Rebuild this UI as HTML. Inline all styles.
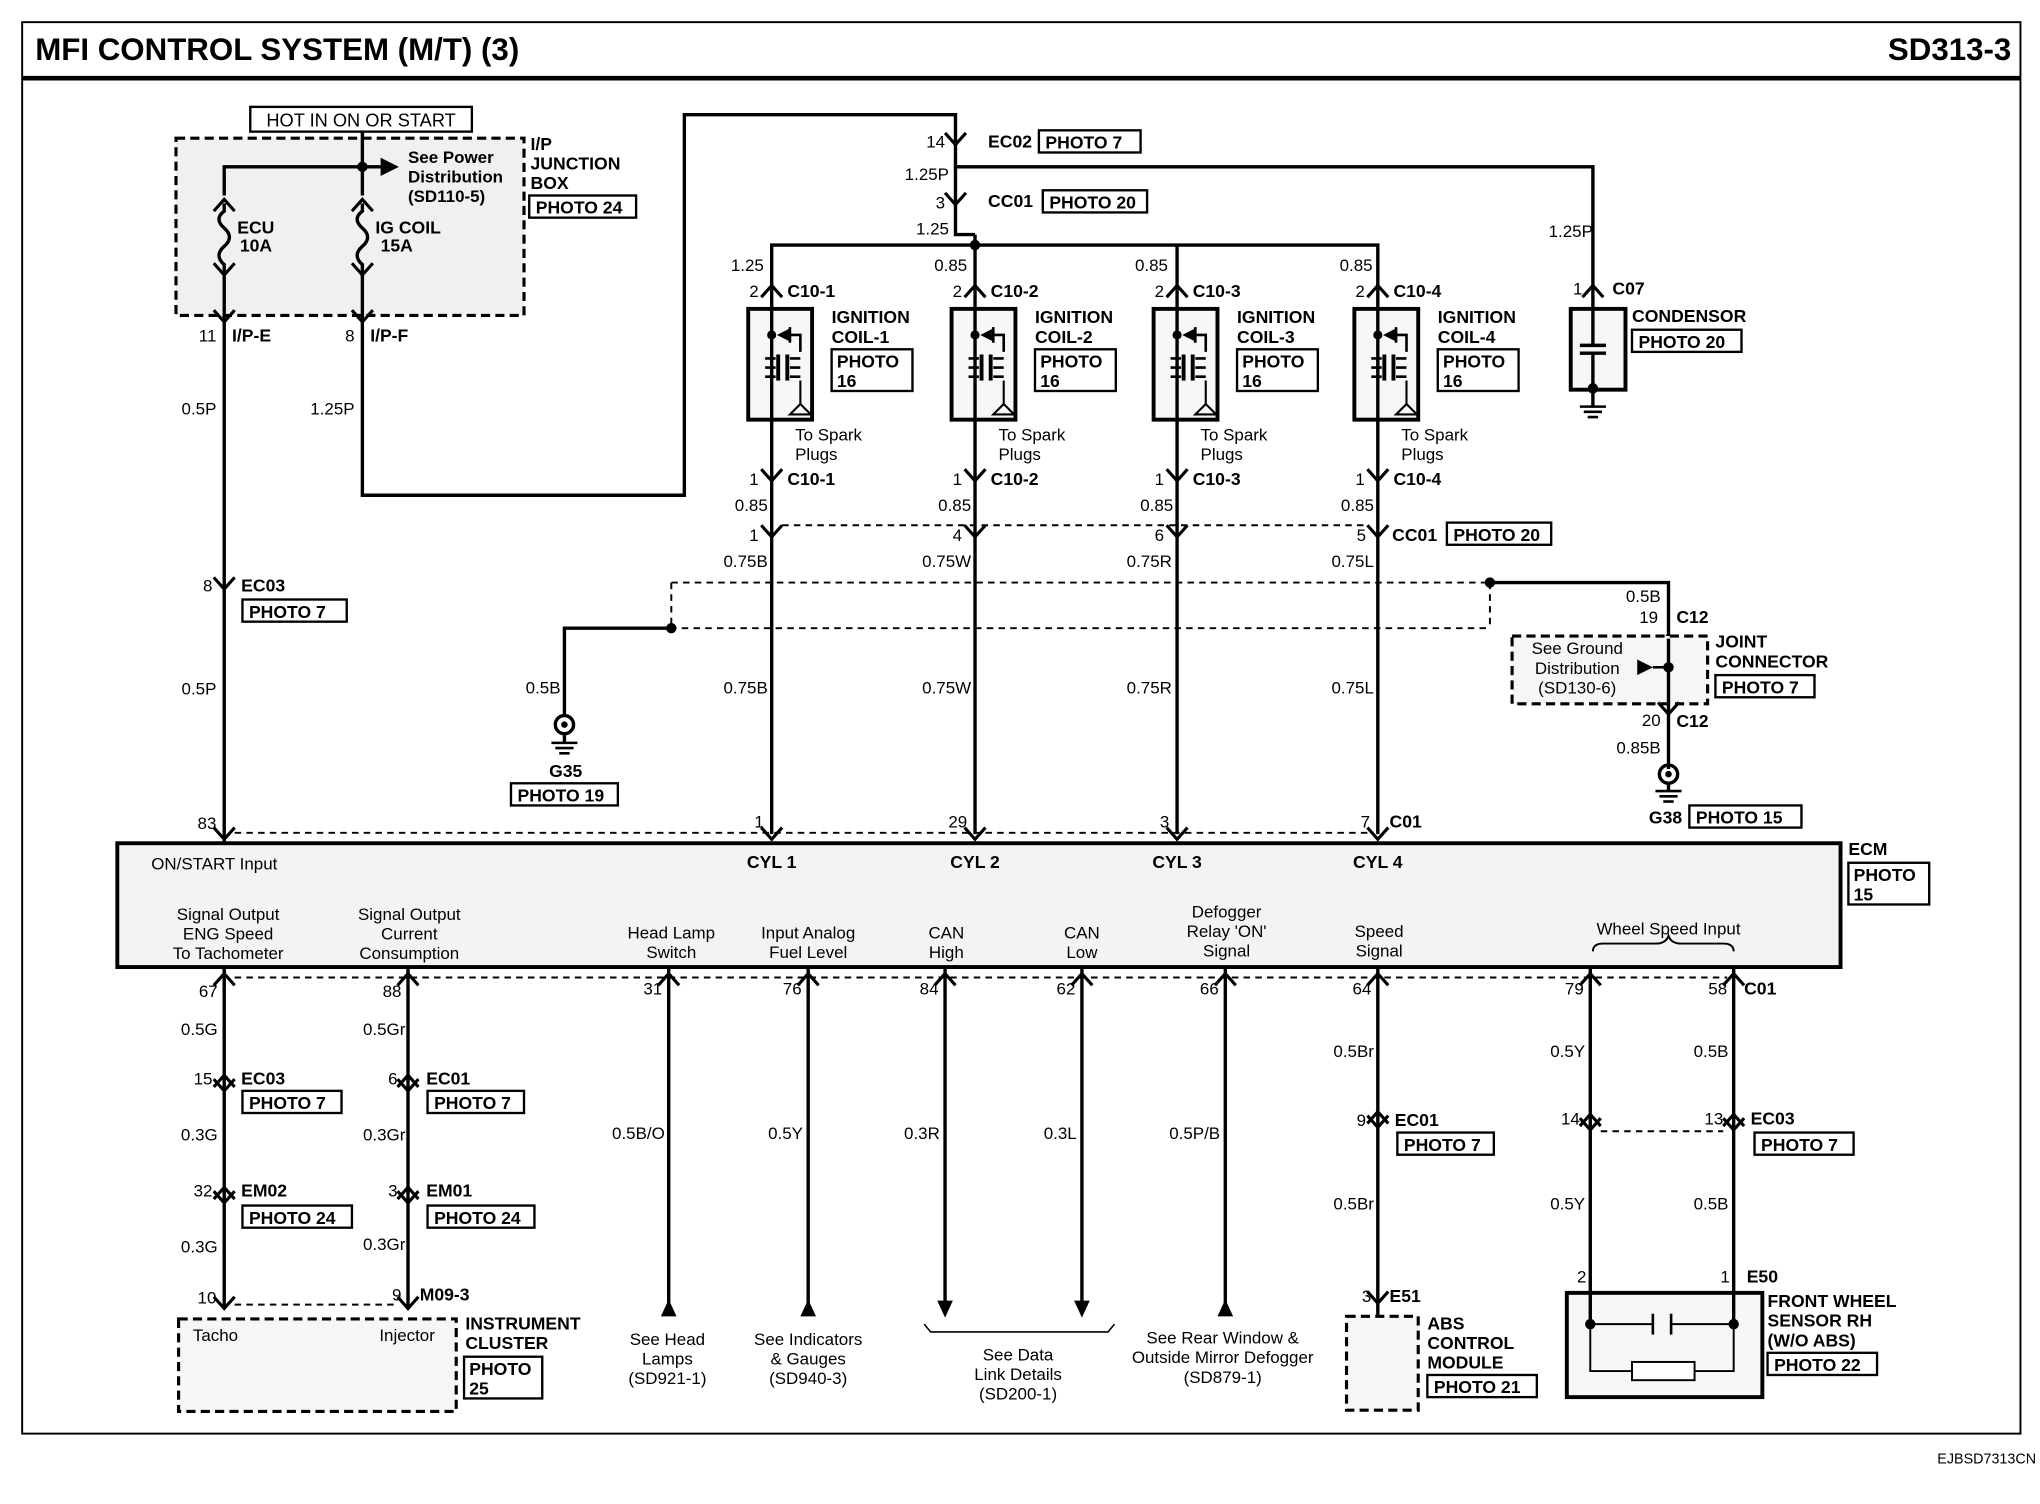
<!DOCTYPE html>
<html><head><meta charset="utf-8"><style>
html,body{margin:0;padding:0;background:#fff}
svg{display:block}
text{font-family:"Liberation Sans",sans-serif;fill:#000}
.t{font-size:13px}
.b{font-size:13.5px;font-weight:bold}
.w{fill:none;stroke:#000;stroke-width:2.6}
.d{fill:none;stroke:#000;stroke-width:2.4;stroke-dasharray:7,4}
.dt{fill:none;stroke:#000;stroke-width:1.5;stroke-dasharray:5,4}
.bx{fill:#fff;stroke:#000;stroke-width:1.8}
</style></head><body>
<svg width="2040" height="1504" viewBox="0 0 1565 1154" preserveAspectRatio="none" xmlns="http://www.w3.org/2000/svg">
<defs>
<path id="cd" d="M-8,-6 L0,3 L8,-6" fill="none" stroke="#000" stroke-width="2.4"/>
<path id="cu" d="M-8,6 L0,-3 L8,6" fill="none" stroke="#000" stroke-width="2.4"/>
<path id="au" d="M-6,6 L0,-7 L6,6 Z" fill="#000"/>
<path id="ad" d="M-6,-6 L0,7 L6,-6 Z" fill="#000"/>
<g id="coil">
<rect x="-18" y="237" width="49" height="85" fill="#f7f7f7" stroke="#000" stroke-width="3"/>
<line x1="0" y1="222" x2="0" y2="366" class="w"/>
<circle cx="0" cy="257" r="3.5"/><path d="M4,257 L14,252 L14,262 Z"/><line x1="14" y1="251" x2="14" y2="263" stroke="#000" stroke-width="2"/>
<polyline points="14,257 22,257 22,270" fill="none" stroke="#000" stroke-width="2"/>
<line x1="5" y1="272" x2="5" y2="292" stroke="#000" stroke-width="3"/><line x1="12" y1="272" x2="12" y2="292" stroke="#000" stroke-width="3"/>
<path d="M-5,275 h8 M-5,282 h8 M-5,289 h8 M14,275 h8 M14,282 h8 M14,289 h8" stroke="#000" stroke-width="2"/>
<polyline points="22,292 22,310 14,318 30,318 22,310" fill="none" stroke="#000" stroke-width="1.6"/>
<use href="#cu" x="0" y="222"/><use href="#cd" x="0" y="366"/><use href="#cd" x="0" y="409"/>
<rect x="46" y="268" width="62" height="32" class="bx"/><text x="50" y="282" class="b">PHOTO</text><text x="50" y="297" class="b">16</text>
<text x="18" y="338" class="t">To Spark</text><text x="18" y="353" class="t">Plugs</text>
<text x="-10" y="228" class="t" text-anchor="end">2</text>
<text x="-10" y="372" class="t" text-anchor="end">1</text>
<text x="-3" y="392" class="t" text-anchor="end">0.85</text>
<text x="46" y="248" class="b">IGNITION</text>
</g>
</defs>
<rect x="17" y="17" width="1533" height="1083" fill="none" stroke="#000" stroke-width="1.5"/>
<line x1="17" y1="60" x2="1550" y2="60" stroke="#000" stroke-width="3.5"/>
<text x="27" y="46" style="font-size:24px;font-weight:bold">MFI CONTROL SYSTEM (M/T) (3)</text>
<text x="1543" y="46" text-anchor="end" style="font-size:24px;font-weight:bold">SD313-3</text>
<text x="1562" y="1123" text-anchor="end" style="font-size:11px">EJBSD7313CN</text>

<!-- junction box -->
<rect x="135" y="106" width="267" height="136" class="d" style="fill:#f0f0f0"/>
<rect x="192" y="82" width="170" height="19" class="bx"/>
<text x="277" y="97" text-anchor="middle" style="font-size:14px">HOT IN ON OR START</text>
<line x1="278" y1="101" x2="278" y2="150" class="w"/>
<polyline class="w" points="172,150 172,128 292,128"/>
<path d="M292,121 L306,128 L292,135 Z"/>
<circle cx="278" cy="128" r="4"/>
<use href="#cu" x="172" y="156"/><use href="#cu" x="278" y="156"/>
<path d="M172,156 L172,162 q-8,6 0,13 q8,7 0,14 q-8,7 0,14 L172,212" class="w"/>
<path d="M278,156 L278,162 q-8,6 0,13 q8,7 0,14 q-8,7 0,14 L278,212" class="w"/>
<use href="#cd" x="172" y="208"/><use href="#cd" x="278" y="208"/>
<text x="182" y="179" class="b">ECU</text><text x="184" y="193" class="b">10A</text>
<text x="288" y="179" class="b">IG COIL</text><text x="292" y="193" class="b">15A</text>
<text x="313" y="125" class="b" style="font-size:13px">See Power</text>
<text x="313" y="140" class="b" style="font-size:13px">Distribution</text>
<text x="313" y="155" class="b" style="font-size:13px">(SD110-5)</text>
<text x="407" y="115" class="b">I/P</text><text x="407" y="130" class="b">JUNCTION</text><text x="407" y="145" class="b">BOX</text>
<rect x="406" y="150" width="82" height="17" class="bx"/><text x="411" y="164" class="b">PHOTO 24</text>
<line x1="172" y1="208" x2="172" y2="646" class="w"/>
<use href="#cd" x="172" y="244"/><use href="#cd" x="278" y="244"/>
<text x="166" y="262" class="t" text-anchor="end">11</text><text x="178" y="262" class="b">I/P-E</text>
<text x="272" y="262" class="t" text-anchor="end">8</text><text x="284" y="262" class="b">I/P-F</text>
<text x="166" y="318" class="t" text-anchor="end">0.5P</text>
<text x="272" y="318" class="t" text-anchor="end">1.25P</text>
<polyline class="w" points="278,208 278,380 525,380 525,88 733,88 733,180 748,180"/>
<use href="#cd" x="172" y="449"/><text x="163" y="454" class="t" text-anchor="end">8</text><text x="185" y="454" class="b">EC03</text>
<rect x="186" y="460" width="80" height="17" class="bx"/><text x="191" y="474" class="b">PHOTO 7</text>
<text x="166" y="533" class="t" text-anchor="end">0.5P</text>
<text x="166" y="636" class="t" text-anchor="end">83</text>

<!-- top harness -->
<use href="#cd" x="733" y="108"/><text x="725" y="113" class="t" text-anchor="end">14</text><text x="758" y="113" class="b">EC02</text>
<rect x="797" y="100" width="78" height="17" class="bx"/><text x="802" y="114" class="b">PHOTO 7</text>
<text x="728" y="138" class="t" text-anchor="end">1.25P</text>
<polyline class="w" points="733,128 1222,128 1222,222"/>
<use href="#cd" x="733" y="154"/><text x="725" y="160" class="t" text-anchor="end">3</text><text x="758" y="159" class="b">CC01</text>
<rect x="800" y="146" width="80" height="17" class="bx"/><text x="805" y="160" class="b">PHOTO 20</text>
<text x="728" y="180" class="t" text-anchor="end">1.25</text>
<polyline class="w" points="748,180 748,188"/>
<polyline class="w" points="592,222 592,188 1057,188 1057,222"/>
<line x1="748" y1="188" x2="748" y2="222" class="w"/>
<line x1="903" y1="188" x2="903" y2="222" class="w"/>
<circle cx="748" cy="188" r="4"/>
<text x="586" y="208" class="t" text-anchor="end">1.25</text>
<text x="742" y="208" class="t" text-anchor="end">0.85</text>
<text x="896" y="208" class="t" text-anchor="end">0.85</text>
<text x="1053" y="208" class="t" text-anchor="end">0.85</text>

<use href="#coil" x="592" y="0"/><use href="#coil" x="748" y="0"/><use href="#coil" x="903" y="0"/><use href="#coil" x="1057" y="0"/>
<text x="604" y="228" class="b">C10-1</text><text x="604" y="372" class="b">C10-1</text><text x="638" y="263" class="b">COIL-1</text>
<text x="760" y="228" class="b">C10-2</text><text x="760" y="372" class="b">C10-2</text><text x="794" y="263" class="b">COIL-2</text>
<text x="915" y="228" class="b">C10-3</text><text x="915" y="372" class="b">C10-3</text><text x="949" y="263" class="b">COIL-3</text>
<text x="1069" y="228" class="b">C10-4</text><text x="1069" y="372" class="b">C10-4</text><text x="1103" y="263" class="b">COIL-4</text>

<line x1="592" y1="366" x2="592" y2="640" class="w"/><line x1="748" y1="366" x2="748" y2="640" class="w"/>
<line x1="903" y1="366" x2="903" y2="640" class="w"/><line x1="1057" y1="366" x2="1057" y2="640" class="w"/>
<line x1="600" y1="403" x2="1050" y2="403" class="dt"/>
<text x="582" y="415" class="t" text-anchor="end">1</text><text x="738" y="415" class="t" text-anchor="end">4</text>
<text x="893" y="415" class="t" text-anchor="end">6</text><text x="1048" y="415" class="t" text-anchor="end">5</text>
<text x="1068" y="415" class="b">CC01</text>
<rect x="1110" y="401" width="80" height="17" class="bx"/><text x="1115" y="415" class="b">PHOTO 20</text>
<text x="589" y="435" class="t" text-anchor="end">0.75B</text><text x="745" y="435" class="t" text-anchor="end">0.75W</text>
<text x="899" y="435" class="t" text-anchor="end">0.75R</text><text x="1054" y="435" class="t" text-anchor="end">0.75L</text>
<text x="589" y="532" class="t" text-anchor="end">0.75B</text><text x="745" y="532" class="t" text-anchor="end">0.75W</text>
<text x="899" y="532" class="t" text-anchor="end">0.75R</text><text x="1054" y="532" class="t" text-anchor="end">0.75L</text>

<!-- condensor -->
<text x="1222" y="182" class="t" text-anchor="end">1.25P</text>
<use href="#cu" x="1222" y="222"/><text x="1214" y="226" class="t" text-anchor="end">1</text><text x="1237" y="226" class="b">C07</text>
<rect x="1205" y="237" width="42" height="62" fill="#f7f7f7" stroke="#000" stroke-width="3"/>
<line x1="1222" y1="222" x2="1222" y2="264" class="w"/><line x1="1212" y1="265" x2="1232" y2="265" class="w"/><line x1="1212" y1="271" x2="1232" y2="271" class="w"/><line x1="1222" y1="271" x2="1222" y2="312" class="w"/>
<circle cx="1222" cy="298" r="4"/>
<line x1="1212" y1="312" x2="1232" y2="312" stroke="#000" stroke-width="2"/><line x1="1215" y1="316" x2="1229" y2="316" stroke="#000" stroke-width="2"/><line x1="1218" y1="320" x2="1226" y2="320" stroke="#000" stroke-width="2"/>
<text x="1252" y="247" class="b">CONDENSOR</text>
<rect x="1252" y="253" width="84" height="17" class="bx"/><text x="1257" y="267" class="b">PHOTO 20</text>

<!-- ground bus -->
<line x1="515" y1="447" x2="1143" y2="447" class="dt"/>
<line x1="433" y1="482" x2="1143" y2="482" class="dt"/>
<line x1="515" y1="447" x2="515" y2="482" class="dt"/>
<line x1="1143" y1="447" x2="1143" y2="482" class="dt"/>
<circle cx="515" cy="482" r="4"/><circle cx="1143" cy="447" r="4"/>
<polyline class="w" points="515,482 433,482 433,548"/>
<text x="430" y="532" class="t" text-anchor="end">0.5B</text>
<circle cx="433" cy="556" r="7" fill="none" stroke="#000" stroke-width="2.6"/><circle cx="433" cy="556" r="2.5"/>
<line x1="433" y1="563" x2="433" y2="570" class="w"/>
<line x1="423" y1="570" x2="443" y2="570" stroke="#000" stroke-width="2"/><line x1="426" y1="574" x2="440" y2="574" stroke="#000" stroke-width="2"/><line x1="429" y1="578" x2="437" y2="578" stroke="#000" stroke-width="2"/>
<text x="434" y="596" class="b" text-anchor="middle">G35</text>
<rect x="392" y="601" width="82" height="17" class="bx"/><text x="397" y="615" class="b">PHOTO 19</text>
<polyline class="w" points="1143,447 1280,447 1280,490"/>
<text x="1274" y="462" class="t" text-anchor="end">0.5B</text>
<use href="#cu" x="1280" y="490"/><text x="1272" y="478" class="t" text-anchor="end">19</text><text x="1286" y="478" class="b">C12</text>
<rect x="1160" y="488" width="150" height="52" class="d" style="fill:#f6f6f6"/>
<line x1="1280" y1="490" x2="1280" y2="590" class="w"/>
<circle cx="1280" cy="512" r="4"/><path d="M1256,506 L1268,512 L1256,518 Z"/><line x1="1268" y1="512" x2="1280" y2="512" stroke="#000" stroke-width="2"/>
<text x="1210" y="502" class="t" text-anchor="middle">See Ground</text><text x="1210" y="517" class="t" text-anchor="middle">Distribution</text><text x="1210" y="532" class="t" text-anchor="middle">(SD130-6)</text>
<text x="1316" y="497" class="b">JOINT</text><text x="1316" y="512" class="b">CONNECTOR</text>
<rect x="1316" y="518" width="76" height="17" class="bx"/><text x="1321" y="532" class="b">PHOTO 7</text>
<use href="#cd" x="1280" y="545"/><text x="1274" y="557" class="t" text-anchor="end">20</text><text x="1286" y="558" class="b">C12</text>
<text x="1274" y="578" class="t" text-anchor="end">0.85B</text>
<circle cx="1280" cy="594" r="7" fill="none" stroke="#000" stroke-width="2.6"/><circle cx="1280" cy="594" r="2.5"/>
<line x1="1280" y1="601" x2="1280" y2="607" class="w"/>
<line x1="1270" y1="607" x2="1290" y2="607" stroke="#000" stroke-width="2"/><line x1="1273" y1="611" x2="1287" y2="611" stroke="#000" stroke-width="2"/><line x1="1276" y1="615" x2="1284" y2="615" stroke="#000" stroke-width="2"/>
<text x="1265" y="632" class="b">G38</text>
<rect x="1296" y="618" width="86" height="17" class="bx"/><text x="1301" y="632" class="b">PHOTO 15</text>

<!-- ECM -->
<line x1="180" y1="639" x2="1050" y2="639" class="dt"/>
<use href="#cd" x="172" y="641"/><use href="#cd" x="592" y="641"/><use href="#cd" x="748" y="641"/><use href="#cd" x="903" y="641"/><use href="#cd" x="1057" y="641"/>
<text x="586" y="635" class="t" text-anchor="end">1</text><text x="742" y="635" class="t" text-anchor="end">29</text>
<text x="897" y="635" class="t" text-anchor="end">3</text><text x="1051" y="635" class="t" text-anchor="end">7</text>
<text x="1066" y="635" class="b">C01</text>
<rect x="90" y="647" width="1322" height="95" fill="#f3f3f3" stroke="#000" stroke-width="3"/>
<text x="1418" y="656" class="b">ECM</text>
<rect x="1418" y="662" width="62" height="32" class="bx"/><text x="1422" y="676" class="b">PHOTO</text><text x="1422" y="691" class="b">15</text>
<text x="116" y="667" class="t">ON/START Input</text>
<text x="592" y="666" class="b" text-anchor="middle">CYL 1</text><text x="748" y="666" class="b" text-anchor="middle">CYL 2</text>
<text x="903" y="666" class="b" text-anchor="middle">CYL 3</text><text x="1057" y="666" class="b" text-anchor="middle">CYL 4</text>
<g class="t" text-anchor="middle">
<text x="175" y="706">Signal Output</text><text x="175" y="721">ENG Speed</text><text x="175" y="736">To Tachometer</text>
<text x="314" y="706">Signal Output</text><text x="314" y="721">Current</text><text x="314" y="736">Consumption</text>
<text x="515" y="720">Head Lamp</text><text x="515" y="735">Switch</text>
<text x="620" y="720">Input Analog</text><text x="620" y="735">Fuel Level</text>
<text x="726" y="720">CAN</text><text x="726" y="735">High</text>
<text x="830" y="720">CAN</text><text x="830" y="735">Low</text>
<text x="941" y="704">Defogger</text><text x="941" y="719">Relay 'ON'</text><text x="941" y="734">Signal</text>
<text x="1058" y="719">Speed</text><text x="1058" y="734">Signal</text>
<text x="1280" y="717">Wheel Speed Input</text>
</g>
<path d="M1222,730 q0,-6 8,-6 h40 q8,0 10,-6 q2,6 10,6 h32 q8,0 8,6" fill="none" stroke="#000" stroke-width="1.5"/>

<!-- bottom -->
<line x1="180" y1="750" x2="1325" y2="750" class="dt"/>
<line x1="172" y1="742" x2="172" y2="1004" class="w"/><line x1="313" y1="742" x2="313" y2="1004" class="w"/>
<line x1="513" y1="742" x2="513" y2="1003" class="w"/><line x1="620" y1="742" x2="620" y2="1003" class="w"/>
<line x1="725" y1="742" x2="725" y2="1000" class="w"/><line x1="830" y1="742" x2="830" y2="1000" class="w"/>
<line x1="940" y1="742" x2="940" y2="1003" class="w"/><line x1="1057" y1="742" x2="1057" y2="1010" class="w"/>
<line x1="1220" y1="742" x2="1220" y2="992" class="w"/><line x1="1330" y1="742" x2="1330" y2="992" class="w"/>
<use href="#cu" x="172" y="750"/><use href="#cu" x="313" y="750"/><use href="#cu" x="513" y="750"/><use href="#cu" x="620" y="750"/>
<use href="#cu" x="725" y="750"/><use href="#cu" x="830" y="750"/><use href="#cu" x="940" y="750"/><use href="#cu" x="1057" y="750"/>
<use href="#cu" x="1220" y="750"/><use href="#cu" x="1330" y="750"/>
<text x="167" y="765" class="t" text-anchor="end">67</text><text x="308" y="765" class="t" text-anchor="end">88</text>
<text x="508" y="763" class="t" text-anchor="end">31</text><text x="615" y="763" class="t" text-anchor="end">76</text>
<text x="720" y="763" class="t" text-anchor="end">84</text><text x="825" y="763" class="t" text-anchor="end">62</text>
<text x="935" y="763" class="t" text-anchor="end">66</text><text x="1052" y="763" class="t" text-anchor="end">64</text>
<text x="1215" y="763" class="t" text-anchor="end">79</text><text x="1325" y="763" class="t" text-anchor="end">58</text>
<text x="1338" y="763" class="b">C01</text>

<text x="167" y="794" class="t" text-anchor="end">0.5G</text><text x="311" y="794" class="t" text-anchor="end">0.5Gr</text>
<use href="#cu" x="172" y="828"/><use href="#cd" x="172" y="834"/><text x="163" y="832" class="t" text-anchor="end">15</text><text x="185" y="832" class="b">EC03</text>
<rect x="186" y="837" width="76" height="17" class="bx"/><text x="191" y="851" class="b">PHOTO 7</text>
<use href="#cu" x="313" y="828"/><use href="#cd" x="313" y="834"/><text x="305" y="832" class="t" text-anchor="end">6</text><text x="327" y="832" class="b">EC01</text>
<rect x="328" y="837" width="74" height="17" class="bx"/><text x="333" y="851" class="b">PHOTO 7</text>
<text x="167" y="875" class="t" text-anchor="end">0.3G</text><text x="311" y="875" class="t" text-anchor="end">0.3Gr</text>
<use href="#cu" x="172" y="914"/><use href="#cd" x="172" y="920"/><text x="163" y="918" class="t" text-anchor="end">32</text><text x="185" y="918" class="b">EM02</text>
<rect x="186" y="925" width="84" height="17" class="bx"/><text x="191" y="939" class="b">PHOTO 24</text>
<use href="#cu" x="313" y="914"/><use href="#cd" x="313" y="920"/><text x="305" y="918" class="t" text-anchor="end">3</text><text x="327" y="918" class="b">EM01</text>
<rect x="328" y="925" width="82" height="17" class="bx"/><text x="333" y="939" class="b">PHOTO 24</text>
<text x="167" y="961" class="t" text-anchor="end">0.3G</text><text x="311" y="959" class="t" text-anchor="end">0.3Gr</text>
<text x="166" y="1000" class="t" text-anchor="end">10</text><text x="308" y="998" class="t" text-anchor="end">9</text><text x="322" y="998" class="b">M09-3</text>
<use href="#cd" x="172" y="1001"/><use href="#cd" x="313" y="1001"/>
<line x1="180" y1="1001" x2="305" y2="1001" class="dt"/>
<rect x="137" y="1012" width="213" height="71" class="d" style="fill:#f6f6f6"/>
<text x="148" y="1029" class="t">Tacho</text><text x="291" y="1029" class="t">Injector</text>
<text x="357" y="1020" class="b">INSTRUMENT</text><text x="357" y="1035" class="b">CLUSTER</text>
<rect x="356" y="1041" width="60" height="32" class="bx"/><text x="360" y="1055" class="b">PHOTO</text><text x="360" y="1070" class="b">25</text>

<text x="510" y="874" class="t" text-anchor="end">0.5B/O</text><text x="616" y="874" class="t" text-anchor="end">0.5Y</text>
<text x="721" y="874" class="t" text-anchor="end">0.3R</text><text x="826" y="874" class="t" text-anchor="end">0.3L</text>
<text x="936" y="874" class="t" text-anchor="end">0.5P/B</text>
<use href="#au" x="513" y="1004"/><use href="#au" x="620" y="1004"/><use href="#ad" x="725" y="1004"/><use href="#ad" x="830" y="1004"/><use href="#au" x="940" y="1004"/>
<path d="M709,1016 l5,6 h136 l5,-6" fill="none" stroke="#000" stroke-width="1.2"/>
<g class="t" text-anchor="middle">
<text x="512" y="1032">See Head</text><text x="512" y="1047">Lamps</text><text x="512" y="1062">(SD921-1)</text>
<text x="620" y="1032">See Indicators</text><text x="620" y="1047">&amp; Gauges</text><text x="620" y="1062">(SD940-3)</text>
<text x="781" y="1044">See Data</text><text x="781" y="1059">Link Details</text><text x="781" y="1074">(SD200-1)</text>
<text x="938" y="1031">See Rear Window &amp;</text><text x="938" y="1046">Outside Mirror Defogger</text><text x="938" y="1061">(SD879-1)</text>
</g>

<text x="1054" y="811" class="t" text-anchor="end">0.5Br</text>
<use href="#cu" x="1057" y="856"/><use href="#cd" x="1057" y="862"/><text x="1048" y="864" class="t" text-anchor="end">9</text><text x="1070" y="864" class="b">EC01</text>
<rect x="1072" y="869" width="74" height="17" class="bx"/><text x="1077" y="883" class="b">PHOTO 7</text>
<text x="1054" y="928" class="t" text-anchor="end">0.5Br</text>
<use href="#cd" x="1057" y="997"/><text x="1052" y="999" class="t" text-anchor="end">3</text><text x="1066" y="999" class="b">E51</text>
<rect x="1033" y="1010" width="55" height="72" class="d" style="fill:#f6f6f6"/>
<text x="1095" y="1020" class="b">ABS</text><text x="1095" y="1035" class="b">CONTROL</text><text x="1095" y="1050" class="b">MODULE</text>
<rect x="1095" y="1055" width="84" height="17" class="bx"/><text x="1100" y="1069" class="b">PHOTO 21</text>

<text x="1216" y="811" class="t" text-anchor="end">0.5Y</text><text x="1326" y="811" class="t" text-anchor="end">0.5B</text>
<use href="#cu" x="1220" y="858"/><use href="#cd" x="1220" y="864"/><use href="#cu" x="1330" y="858"/><use href="#cd" x="1330" y="864"/>
<line x1="1228" y1="868" x2="1322" y2="868" class="dt"/>
<text x="1212" y="863" class="t" text-anchor="end">14</text><text x="1322" y="863" class="t" text-anchor="end">13</text><text x="1343" y="863" class="b">EC03</text>
<rect x="1346" y="869" width="76" height="17" class="bx"/><text x="1351" y="883" class="b">PHOTO 7</text>
<text x="1216" y="928" class="t" text-anchor="end">0.5Y</text><text x="1326" y="928" class="t" text-anchor="end">0.5B</text>
<text x="1217" y="984" class="t" text-anchor="end">2</text><text x="1327" y="984" class="t" text-anchor="end">1</text><text x="1340" y="984" class="b">E50</text>
<use href="#cu" x="1220" y="994"/><use href="#cu" x="1330" y="994"/>
<rect x="1202" y="992" width="150" height="80" fill="#f7f7f7" stroke="#000" stroke-width="3"/>
<line x1="1220" y1="992" x2="1220" y2="1016" class="w"/><line x1="1330" y1="992" x2="1330" y2="1016" class="w"/>
<polyline points="1220,1016 1220,1052 1252,1052" fill="none" stroke="#000" stroke-width="1.5"/>
<polyline points="1300,1052 1330,1052 1330,1016" fill="none" stroke="#000" stroke-width="1.5"/>
<rect x="1252" y="1045" width="48" height="14" fill="#fff" stroke="#000" stroke-width="1.5"/>
<line x1="1220" y1="1016" x2="1268" y2="1016" stroke="#000" stroke-width="1.5"/><line x1="1282" y1="1016" x2="1330" y2="1016" stroke="#000" stroke-width="1.5"/>
<line x1="1268" y1="1008" x2="1268" y2="1024" stroke="#000" stroke-width="2"/><line x1="1282" y1="1008" x2="1282" y2="1024" stroke="#000" stroke-width="2"/>
<circle cx="1220" cy="1016" r="4"/><circle cx="1330" cy="1016" r="4"/>
<text x="1356" y="1003" class="b">FRONT WHEEL</text><text x="1356" y="1018" class="b">SENSOR RH</text><text x="1356" y="1033" class="b">(W/O ABS)</text>
<rect x="1356" y="1038" width="84" height="17" class="bx"/><text x="1361" y="1052" class="b">PHOTO 22</text>
</svg>
</body></html>
